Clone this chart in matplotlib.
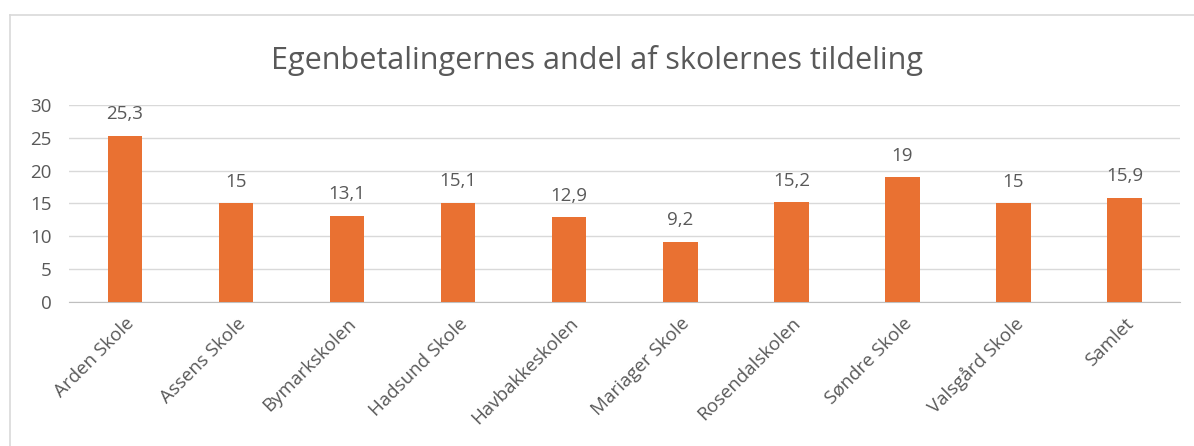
import matplotlib
matplotlib.use("Agg")
import matplotlib.pyplot as plt
from matplotlib.lines import Line2D

plt.rcParams['font.family'] = ['Open Sans', 'DejaVu Sans']

# ── data ──────────────────────────────────────────────────────────────────────
schools = ["Arden Skole", "Assens Skole", "Bymarkskolen", "Hadsund Skole", "Havbakkeskolen",
           "Mariager Skole", "Rosendalskolen", "Søndre Skole", "Valsgård Skole", "Samlet"]
share = [25.3, 15, 13.1, 15.1, 12.9, 9.2, 15.2, 19, 15, 15.9]
yticks = [0, 5, 10, 15, 20, 25, 30]

title = "Egenbetalingernes andel af skolernes tildeling"
bar_color = "#E97132"
text_color = "#595959"
grid_color = "#D9D9D9"

fig = plt.figure(figsize=(11.94, 4.46), dpi=100)
ax = fig.add_axes([0.0582, 0.3229, 0.9301, 0.4417])

x = range(len(schools))
bars = ax.bar(x, share, width=0.31, color=bar_color, zorder=3)

for b, v in zip(bars, share):
    lbl = f"{v:g}".replace(".", ",")
    ax.annotate(lbl, (b.get_x() + b.get_width() / 2, v), xytext=(0, 9),
                textcoords="offset points", ha="center", va="bottom",
                fontsize=13.5, color=text_color)

ax.set_xlim(-0.5, len(schools) - 0.5)
ax.set_ylim(0, 30)
ax.set_yticks(yticks)
ax.set_yticklabels([str(t) for t in yticks], fontsize=13.5, color=text_color)
ax.yaxis.grid(True, color=grid_color, linewidth=1, zorder=0)
ax.set_xticks(list(x))
ax.set_xticklabels(schools, rotation=45, ha="right", va="top", rotation_mode="anchor",
                   fontsize=13.5, color=text_color)
ax.tick_params(axis="both", length=0)
ax.tick_params(axis="y", pad=13)
ax.tick_params(axis="x", pad=9)
for s in ["top", "right", "left"]:
    ax.spines[s].set_visible(False)
ax.spines["bottom"].set_color("#BFBFBF")

fig.text(0.5, 0.865, title, ha="center", va="center", fontsize=22, color=text_color)

# chart frame (top and left edge visible)
fig.add_artist(Line2D([10 / 1194, 1], [431 / 446, 431 / 446], color="#D9D9D9", lw=1.2))
fig.add_artist(Line2D([10 / 1194, 10 / 1194], [0, 431 / 446], color="#D9D9D9", lw=1.2))

fig.savefig("out.png", dpi=100)
